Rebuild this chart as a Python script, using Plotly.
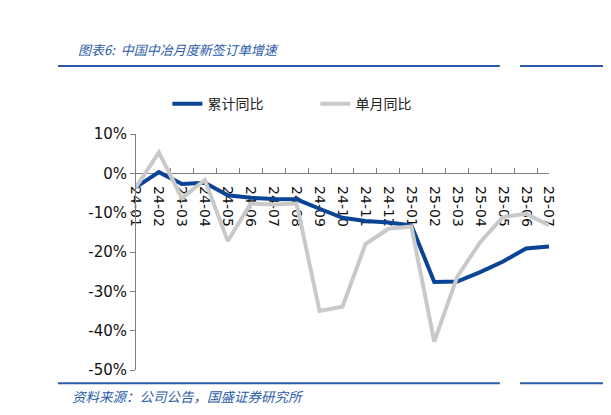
import plotly.graph_objects as go

# ---- data ----
months = ["24-01", "24-02", "24-03", "24-04", "24-05", "24-06", "24-07", "24-08",
          "24-09", "24-10", "24-11", "24-12", "25-01", "25-02", "25-03", "25-04",
          "25-05", "25-06", "25-07"]
cum_yoy = [-3.5, 0.3, -2.7, -2.4, -5.6, -6.2, -6.5, -6.6, -9.0, -11.3, -12.1, -12.5,
           -13.2, -27.6, -27.5, -25.1, -22.4, -19.1, -18.6]
month_yoy = [-3.5, 5.3, -6.3, -1.7, -17.2, -7.7, -7.9, -7.7, -35.0, -33.9, -18.0, -14.1,
             -13.5, -42.8, -26.3, -17.5, -11.1, -10.3, -13.2]
y_ticks = [10, 0, -10, -20, -30, -40, -50]
y_ticktext = ["10%", "0%", "-10%", "-20%", "-30%", "-40%", "-50%"]

title_text = "图表6:  中国中冶月度新签订单增速"
source_text = "资料来源：公司公告，国盛证券研究所"

blue = "#0a4496"
grey = "#c9c9c9"
title_blue = "#2a5caa"
cjk = "Noto Sans CJK SC"

fig = go.Figure()
fig.add_trace(go.Scatter(x=months, y=cum_yoy, mode="lines", name="累计同比",
                         line=dict(color=blue, width=4)))
fig.add_trace(go.Scatter(x=months, y=month_yoy, mode="lines", name="单月同比",
                         line=dict(color=grey, width=4)))

# 上下の青い罫線
line_style = dict(color=title_blue, width=2)
fig.add_shape(type="line", xref="paper", yref="paper", x0=-0.189, x1=0.881, y0=1.288, y1=1.288, line=line_style)
fig.add_shape(type="line", xref="paper", yref="paper", x0=0.93, x1=1.2, y0=1.288, y1=1.288, line=line_style)
fig.add_shape(type="line", xref="paper", yref="paper", x0=-0.189, x1=0.881, y0=-0.056, y1=-0.056, line=line_style)
fig.add_shape(type="line", xref="paper", yref="paper", x0=0.93, x1=1.2, y0=-0.056, y1=-0.056, line=line_style)

# タイトルと出典
fig.add_annotation(xref="paper", yref="paper", x=-0.145, y=1.36, xanchor="left", yanchor="middle",
                   text=title_text, showarrow=False,
                   font=dict(family=cjk, size=13, color=title_blue, style="italic"))
fig.add_annotation(xref="paper", yref="paper", x=-0.16, y=-0.11, xanchor="left", yanchor="middle",
                   text=source_text, showarrow=False,
                   font=dict(family=cjk, size=13.5, color=title_blue, style="italic"))

# ページ余白(8px)分を差し引いたサイズ
fig.update_layout(
    width=603,
    height=407,
    margin=dict(l=128, r=62, t=126, b=45),
    plot_bgcolor="white",
    paper_bgcolor="white",
    showlegend=True,
    legend=dict(orientation="h", x=0.076, y=1.127, xanchor="left", yanchor="middle",
                font=dict(family=cjk, size=14, color="#222222"),
                entrywidth=103, entrywidthmode="pixels", bgcolor="rgba(0,0,0,0)"),
    xaxis=dict(
        type="category",
        anchor="free",
        position=50 / 60,
        tickangle=90,
        tickson="boundaries",
        ticks="inside",
        ticklen=5,
        tickcolor="#7f7f7f",
        showline=True,
        linecolor="#7f7f7f",
        linewidth=1,
        showgrid=False,
        zeroline=False,
        layer="below traces",
        ticklabelstandoff=9,
        tickfont=dict(family="DejaVu Sans", size=14, color="#111111"),
    ),
    yaxis=dict(
        range=[-50, 10],
        tickvals=y_ticks,
        ticktext=y_ticktext,
        ticks="outside",
        ticklen=5,
        tickcolor="#7f7f7f",
        showline=True,
        linecolor="#7f7f7f",
        linewidth=1,
        showgrid=False,
        zeroline=False,
        tickfont=dict(family="DejaVu Sans", size=15, color="#111111"),
    ),
)

fig.write_html("out.html")
